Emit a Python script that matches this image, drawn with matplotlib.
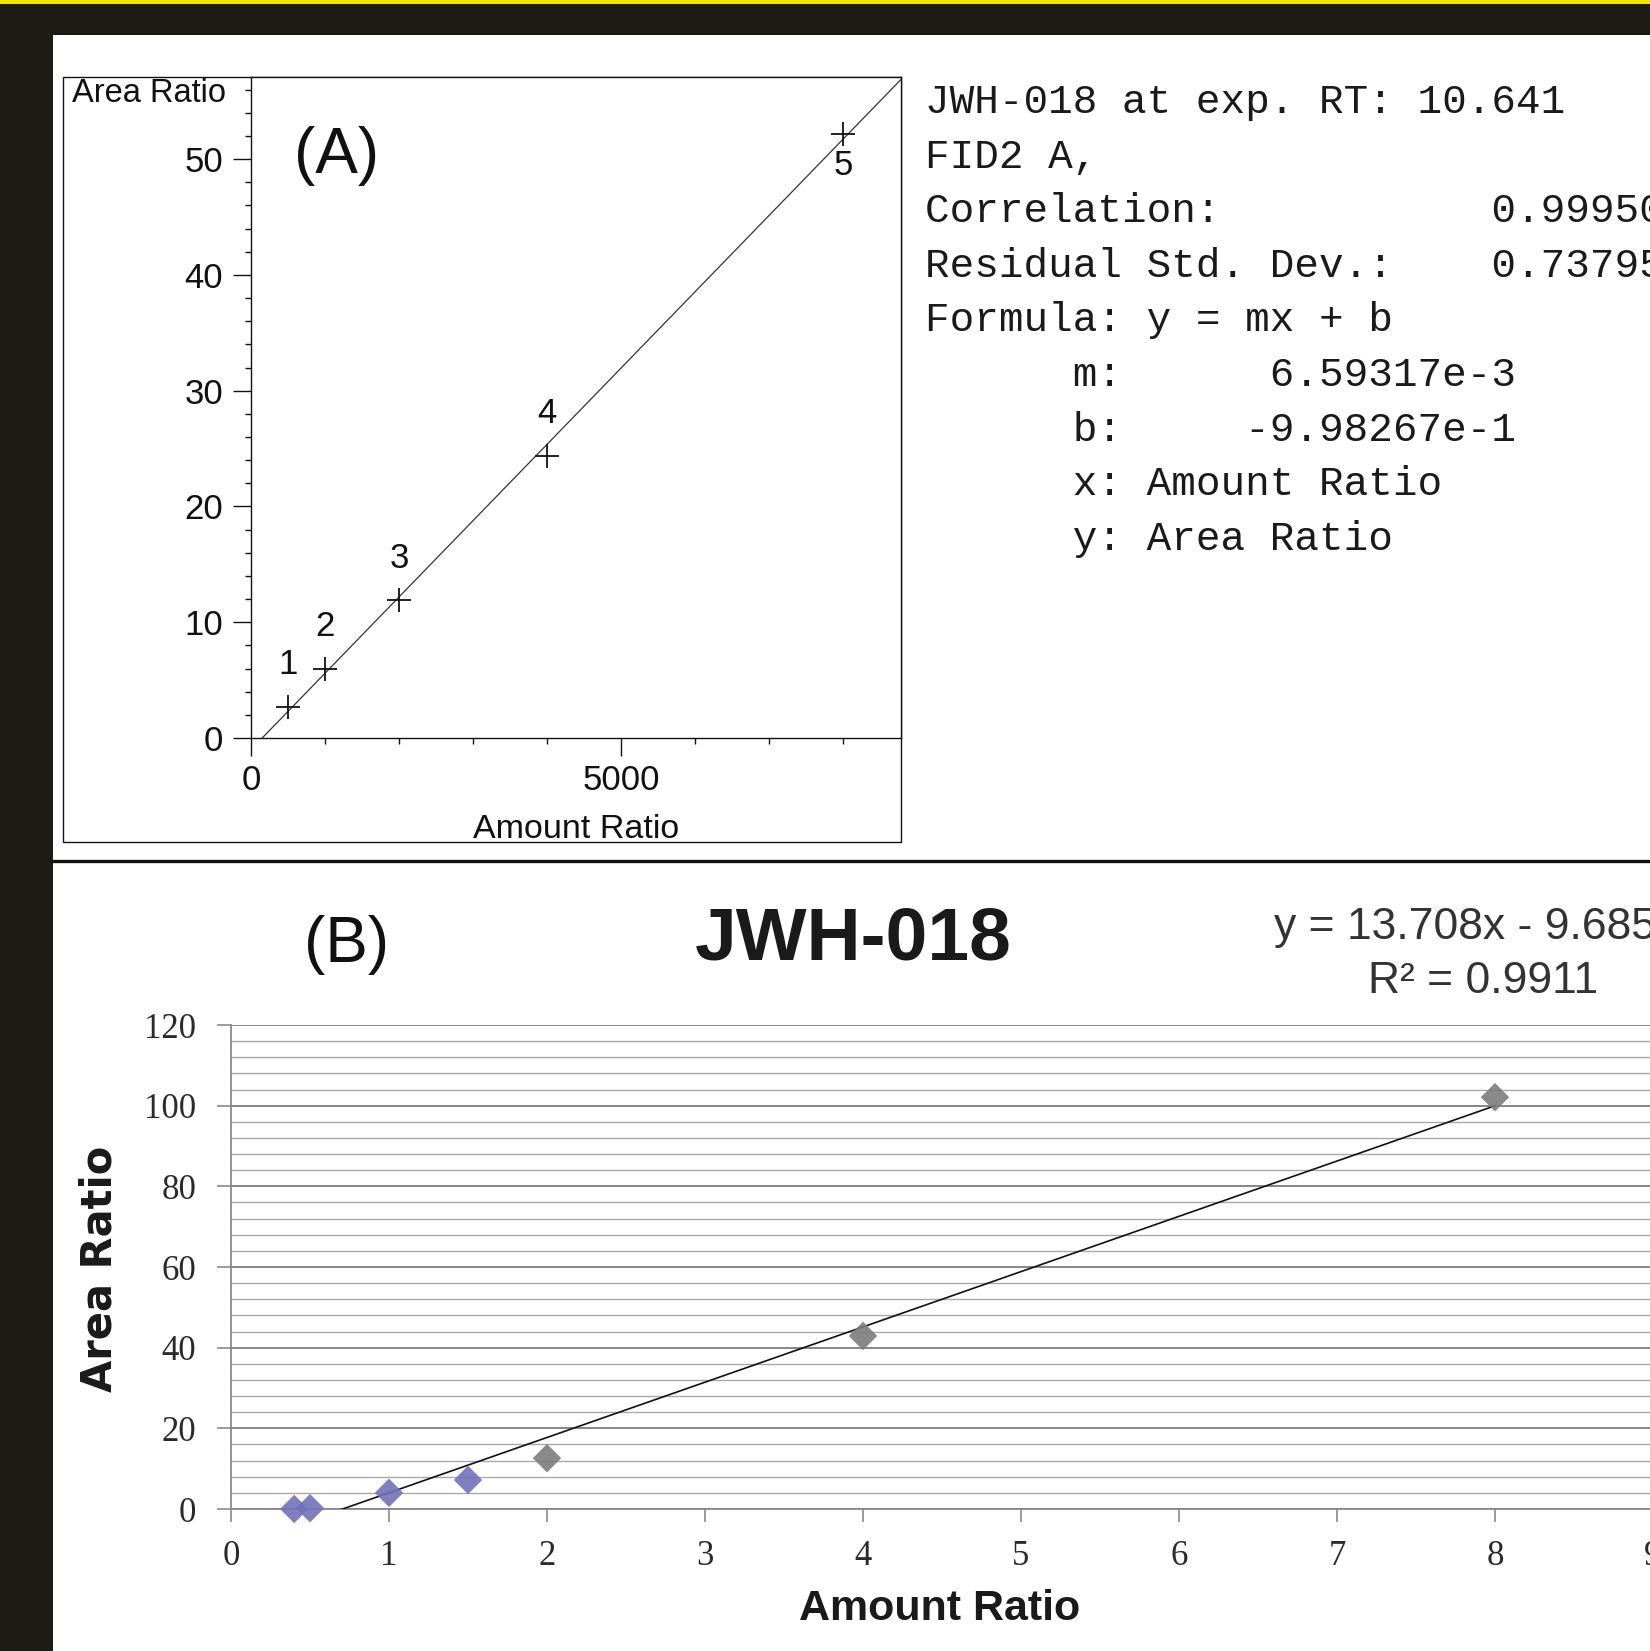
import numpy as np
import matplotlib
matplotlib.use("Agg")
import matplotlib.pyplot as plt
from matplotlib.patches import Rectangle
from matplotlib.lines import Line2D
from matplotlib.ticker import MultipleLocator

# ---------------- Data: panel (A) instrument calibration ----------------
a_amount = [500, 1000, 2000, 4000, 8000]
a_area = [2.7, 6.0, 11.9, 24.4, 52.2]
a_point_labels = ["1", "2", "3", "4", "5"]
a_slope = 6.59317e-3
a_intercept = -9.98267e-1
a_xlim = (0, 8780)
a_ylim = (0, 57.1)
a_yticks = [0, 10, 20, 30, 40, 50]
a_xticks = [0, 5000]
a_info_lines = [
    "JWH-018 at exp. RT: 10.641",
    "FID2 A,",
    "Correlation:           0.99950",
    "Residual Std. Dev.:    0.73795",
    "Formula: y = mx + b",
    "      m:      6.59317e-3",
    "      b:     -9.98267e-1",
    "      x: Amount Ratio",
    "      y: Area Ratio",
]

# ---------------- Data: panel (B) Excel calibration ----------------
b_amount = [0.4, 0.5, 1.0, 1.5, 2.0, 4.0, 8.0]
b_area = [0.0, 0.2, 4.0, 7.2, 12.6, 42.9, 102.1]
b_colors = ["#7272bb", "#7272bb", "#7272bb", "#7272bb", "#7c7c7c", "#7c7c7c", "#7c7c7c"]
b_slope = 13.708
b_intercept = -9.685
b_r2 = "0.9911"
b_xlim = (0, 10)
b_ylim = (0, 120)
b_yticks = [0, 20, 40, 60, 80, 100, 120]
b_xticks = [0, 1, 2, 3, 4, 5, 6, 7, 8, 9, 10]

# ---------------- Layout helpers ----------------
W, H = 1650, 1651
def fx(px):
    return px / W
def fy(py):
    return 1 - py / H

plt.rcParams["font.family"] = ["Liberation Sans", "DejaVu Sans"]

fig = plt.figure(figsize=(W / 100, H / 100), dpi=100, facecolor="#1c1b15")

# backgrounds
fig.add_artist(Rectangle((0, fy(4)), 1, 4 / H, transform=fig.transFigure,
                         facecolor="#f2e400", edgecolor="none", zorder=-10))
fig.add_artist(Rectangle((fx(53), 0), 1 - fx(53), fy(35), transform=fig.transFigure,
                         facecolor="white", edgecolor="none", zorder=-10))
# outer frame of panel A
fig.add_artist(Rectangle((fx(63), fy(842)), (901 - 63) / W, (842 - 77) / H,
                         transform=fig.transFigure, facecolor="none",
                         edgecolor="#111111", lw=1.0, zorder=-5))
# divider between panels
fig.add_artist(Line2D([fx(53), 1], [fy(861), fy(861)], transform=fig.transFigure,
                      color="#111111", lw=2.4, zorder=5))

# ================= Panel A =================
axA = fig.add_axes([fx(251), fy(738), (901 - 251) / W, (738 - 77) / H])
axA.set_xlim(a_xlim)
axA.set_ylim(a_ylim)
axA.set_facecolor("white")
for s in axA.spines.values():
    s.set_color("#111111")
    s.set_linewidth(1.0)

xs_a = np.array([-a_intercept / a_slope, a_xlim[1]])
axA.plot(xs_a, a_slope * xs_a + a_intercept, color="#333333", lw=0.9)
axA.plot(a_amount, a_area, linestyle="none", marker="+", ms=17, mew=1.3,
         color="#111111", clip_on=False)
for i, (x, y, lab) in enumerate(zip(a_amount, a_area, a_point_labels)):
    off = -32 if i == len(a_amount) - 1 else 42
    axA.annotate(lab, (x, y), xytext=(0, off), textcoords="offset pixels",
                 ha="center", va="center", fontsize=25, color="#111111")

axA.set_yticks(a_yticks)
axA.yaxis.set_minor_locator(MultipleLocator(2))
axA.set_xticks(a_xticks)
axA.xaxis.set_minor_locator(MultipleLocator(1000))
axA.tick_params(axis="both", which="major", direction="out", length=13, width=1.0,
                labelsize=25, colors="#111111")
axA.tick_params(axis="both", which="minor", direction="out", length=4.5, width=1.0,
                colors="#111111")
axA.tick_params(axis="y", which="major", pad=7)
axA.tick_params(axis="x", which="major", pad=6)
axA.set_ylabel("Area Ratio", rotation=0, fontsize=23.5, color="#111111")
axA.yaxis.set_label_coords((72 - 251) / 650, (738 - 93) / 661)
axA.yaxis.label.set_ha("left")
axA.yaxis.label.set_va("center")
axA.set_xlabel("Amount Ratio", fontsize=24.5, color="#111111")
axA.xaxis.set_label_coords(0.5, (738 - 830) / 661)
axA.xaxis.label.set_va("center")

fig.text(fx(337), fy(156), "(A)", fontsize=46, ha="center", va="center", color="#111111")

# info block
for i, line in enumerate(a_info_lines):
    fig.text(fx(925), fy(102 + i * 54.6), line, family="Liberation Mono",
             fontsize=29.5, ha="left", va="center", color="#1a1a1a")

# ================= Panel B =================
axB = fig.add_axes([fx(231), fy(1509), 10 * 158 / W, (1509 - 1025) / H])
axB.set_xlim(b_xlim)
axB.set_ylim(b_ylim)
axB.set_facecolor("white")
axB.set_axisbelow(True)
axB.set_yticks(b_yticks)
axB.yaxis.set_minor_locator(MultipleLocator(4))
axB.set_xticks(b_xticks)
axB.grid(which="major", axis="y", color="#7d7d7d", lw=1.3)
axB.grid(which="minor", axis="y", color="#a9a9a9", lw=1.0)
axB.grid(which="both", axis="x", visible=False)
for side in ("top", "right"):
    axB.spines[side].set_visible(False)
for side in ("left", "bottom"):
    axB.spines[side].set_color("#8a8a8a")
    axB.spines[side].set_linewidth(1.3)
axB.tick_params(axis="y", which="major", direction="out", length=10, width=1.2,
                color="#8a8a8a", pad=15, labelsize=25, labelcolor="#2a2a2a")
axB.tick_params(axis="y", which="minor", length=0)
axB.tick_params(axis="x", which="major", direction="out", length=9, width=1.2,
                color="#8a8a8a", pad=13, labelsize=25, labelcolor="#2a2a2a")
for lbl in axB.get_xticklabels() + axB.get_yticklabels():
    lbl.set_fontfamily("Liberation Serif")

xs_b = np.array([min(b_amount), max(b_amount)])
axB.plot(xs_b, b_slope * xs_b + b_intercept, color="#111111", lw=1.2, zorder=3)
axB.scatter(b_amount, b_area, marker="D", s=210, c=b_colors, edgecolors="none",
            alpha=0.9, zorder=4, clip_on=False)

axB.set_xlabel("Amount Ratio", fontsize=31, fontweight="bold",
               family="Liberation Sans", color="#1a1a1a")
axB.xaxis.set_label_coords((940 - 231) / 1580, (1509 - 1609) / 484)
axB.xaxis.label.set_va("center")
axB.set_ylabel("Area Ratio", fontsize=30, fontweight="bold",
               family="DejaVu Sans", color="#1a1a1a")
axB.yaxis.set_label_coords((100 - 231) / 1580, (1509 - 1269) / 484)
axB.yaxis.label.set_va("center")
axB.yaxis.label.set_ha("center")

fig.text(fx(853), fy(940), "JWH-018", fontsize=54, fontweight="bold",
         family="Liberation Sans", ha="center", va="center", color="#1a1a1a")
fig.text(fx(347), fy(945), "(B)", fontsize=46, ha="center", va="center", color="#111111")
sign = "-" if b_intercept < 0 else "+"
fig.text(fx(1274), fy(927), f"y = {b_slope:.3f}x {sign} {abs(b_intercept):.3f}",
         fontsize=32, ha="left", va="center", color="#333333")
fig.text(fx(1483), fy(981), f"R² = {b_r2}", fontsize=32, ha="center", va="center",
         color="#333333")

fig.savefig("out.png", dpi=100, facecolor=fig.get_facecolor())
